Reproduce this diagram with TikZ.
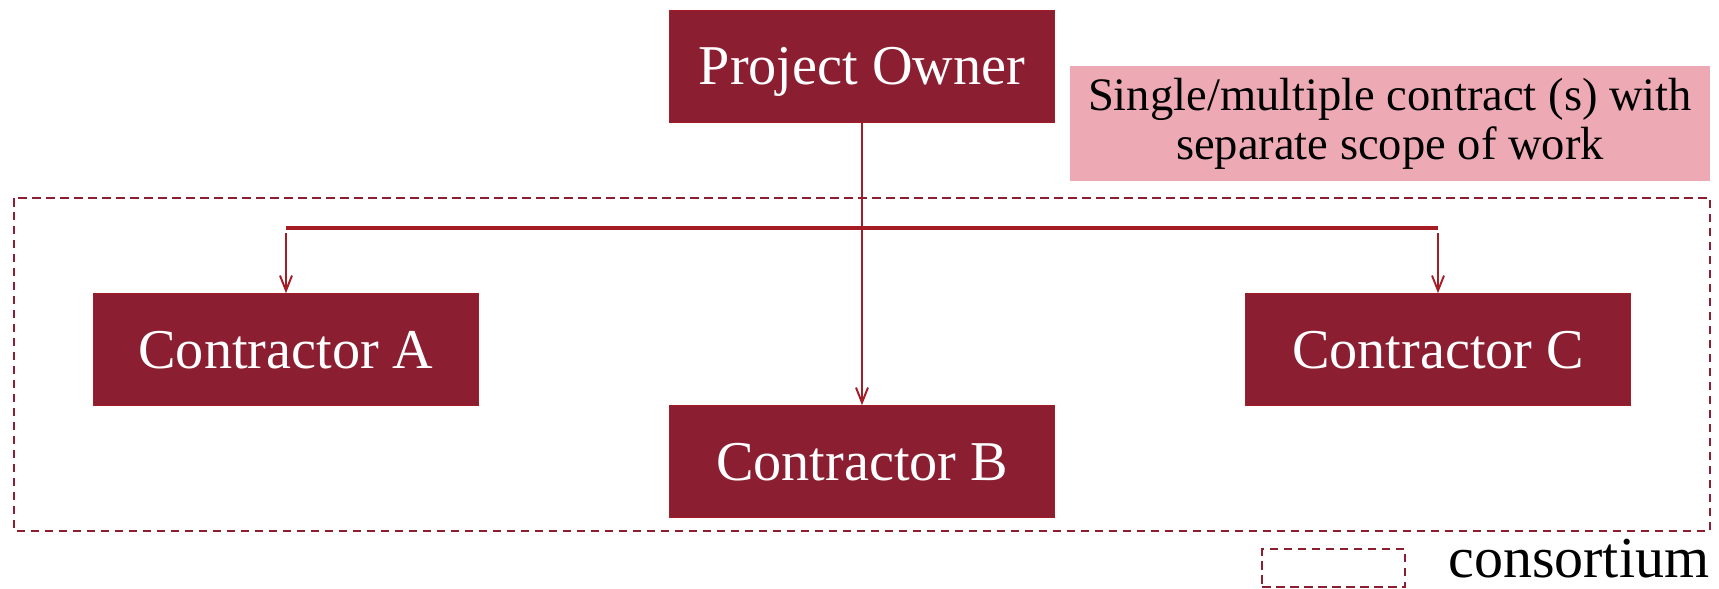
\documentclass[tikz,border=0pt]{standalone}
\usepackage{fontspec}
\setmainfont{Liberation Serif}
\usepackage{xcolor}
\usetikzlibrary{arrows.meta, positioning}
\definecolor{myred}{RGB}{140, 30, 50}
\definecolor{linered}{RGB}{165, 28, 36}
\definecolor{mypink}{RGB}{237, 170, 181}

\tikzset{
  party/.style={fill=myred, draw=linered, line width=0.4pt, text=white,
    minimum width=7.7cm, minimum height=2.24cm, inner sep=0pt,
    text height=0.74cm, text depth=0pt,
    font=\fontsize{32}{38}\selectfont},
  link/.style={linered, line width=1.1pt,
    -{Straight Barb[length=0.3cm, width=0.24cm, line width=1.1pt]}},
  consort/.style={myred, line width=1.4pt, dash pattern=on 0.17cm off 0.11cm}
}

\begin{document}
\begin{tikzpicture}[x=0.02cm, y=-0.02cm]
  \useasboundingbox (0,0) rectangle (1719,588);

  % consortium frame
  \draw[consort] (14,198) rectangle (1710,531);

  \node[party] (owner) at (862,66.5) {Project Owner};
  \node[fill=mypink, minimum width=12.8cm, minimum height=2.3cm, inner sep=0pt,
    align=center, font=\fontsize{26.5}{28}\selectfont] (note) at (1390,123.5)
    {Single/multiple contract (s) with\\separate scope of work};

  \node[party] (conA) at (286,349.5) {Contractor A};
  \node[party] (conB) at (862,461.5) {Contractor B};
  \node[party] (conC) at (1438,349.5) {Contractor C};

  \coordinate (barA) at (conA.north |- 0,228);
  \coordinate (barC) at (conC.north |- 0,228);

  \draw[linered, line width=1.9pt] (barA) -- (barC);
  \draw[link] (owner.south) -- (conB.north);
  \draw[link, shorten <=0.1cm] (barA) -- (conA.north);
  \draw[link, shorten <=0.1cm] (barC) -- (conC.north);

  % legend
  \node[draw=myred, consort, minimum width=2.86cm, minimum height=0.76cm,
    inner sep=0pt] (legend) at (1333.5,568) {};
  \node[anchor=base west, inner sep=0pt, font=\fontsize{33}{36}\selectfont]
    (legendtext) at (1448,577) {consortium};
\end{tikzpicture}
\end{document}
